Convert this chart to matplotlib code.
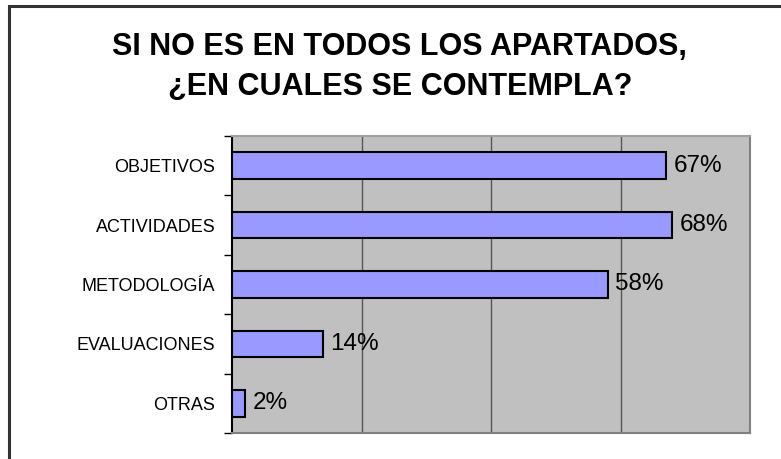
import numpy as np
import matplotlib.pyplot as plt
from matplotlib.patches import Rectangle
from matplotlib.ticker import FixedLocator, NullFormatter

categories = ['OBJETIVOS', 'ACTIVIDADES', 'METODOLOGÍA', 'EVALUACIONES', 'OTRAS']
values = [0.67, 0.68, 0.58, 0.14, 0.02]
labels = ['67%', '68%', '58%', '14%', '2%']
title = 'SI NO ES EN TODOS LOS APARTADOS,\n¿EN CUALES SE CONTEMPLA?'

plt.rcParams['font.family'] = ['Liberation Sans', 'DejaVu Sans']

fig = plt.figure(figsize=(7.81, 4.59), dpi=100)
ax = fig.add_axes([232/781, 1-433/459, (750-232)/781, (433-136)/459])

# outer frame of the chart (only left and top show)
fig.patches.append(Rectangle((9/781, -0.1), 1.2, 1-6/459+0.1, transform=fig.transFigure,
                             fill=False, edgecolor='#333333', linewidth=2.2))

y = np.arange(len(categories))
ax.barh(y, values, height=0.45, color='#9999FF', edgecolor='black', linewidth=1.5, zorder=3)
for yi, v, lab in zip(y, values, labels):
    ax.text(v + 0.012, yi, lab, va='center', ha='left', fontsize=17.5, zorder=4)

ax.set_facecolor('#C0C0C0')
ax.set_xlim(0, 0.8)
ax.set_ylim(len(categories) - 0.5, -0.5)
ax.set_xticks([0.2, 0.4, 0.6])
ax.tick_params(axis='x', length=0, labelbottom=False)
ax.grid(axis='x', color='#555555', linewidth=1, zorder=1)

ax.set_yticks(y)
ax.set_yticklabels(categories, fontsize=13)
ax.tick_params(axis='y', which='major', length=0, pad=12)
ax.yaxis.set_minor_locator(FixedLocator(np.arange(-0.5, len(categories), 1)))
ax.yaxis.set_minor_formatter(NullFormatter())
ax.tick_params(axis='y', which='minor', length=6, width=1, color='black')

ax.spines['left'].set_color('black')
ax.spines['left'].set_linewidth(1.5)
for s in ['right', 'bottom', 'top']:
    ax.spines[s].set_color('#808080')
    ax.spines[s].set_linewidth(1.5)
ax.spines['top'].set_color('#A0A0A0')

fig.text(0.512, 1-67/459, title, ha='center', va='center', fontsize=22,
         fontweight='bold', linespacing=1.4)

fig.savefig('out.png', dpi=100)
